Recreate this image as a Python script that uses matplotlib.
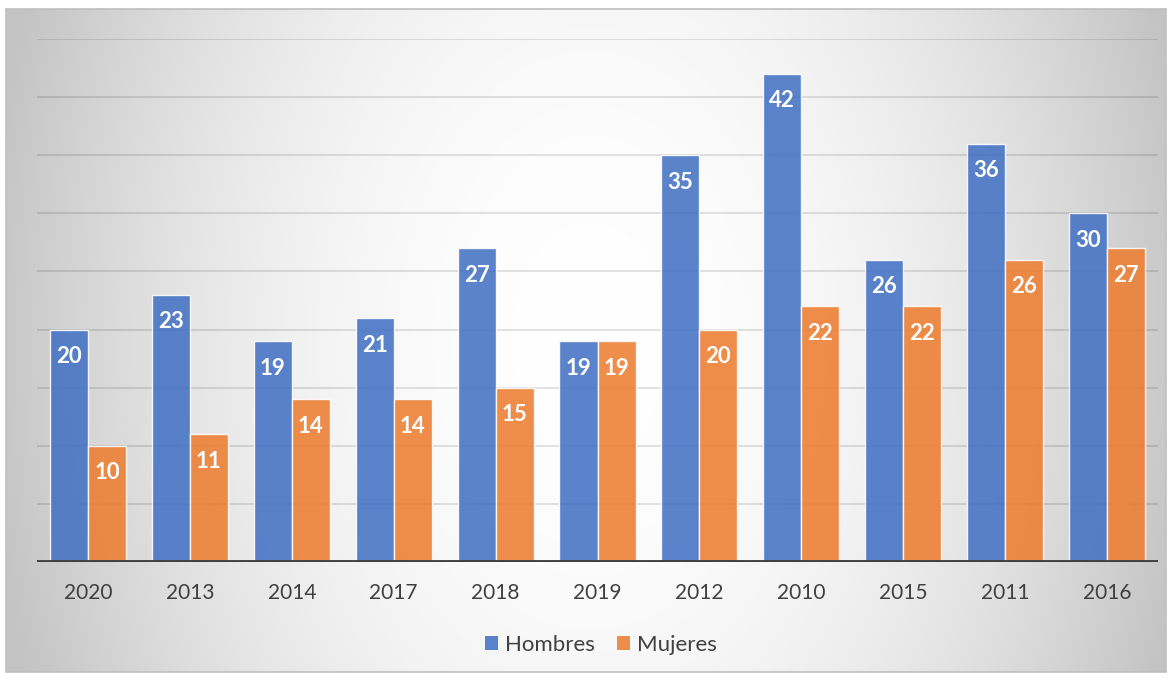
import numpy as np
import matplotlib
matplotlib.use("Agg")
import matplotlib.pyplot as plt
from matplotlib.patches import Patch, Rectangle

plt.rcParams['font.family'] = ['Lato', 'DejaVu Sans']

# data
years = ["2020", "2013", "2014", "2017", "2018", "2019", "2012", "2010", "2015", "2011", "2016"]
hombres = [20, 23, 19, 21, 27, 19, 35, 42, 26, 36, 30]
mujeres = [10, 11, 14, 14, 15, 19, 20, 22, 22, 26, 27]

blue = "#4472C4"
orange = "#ED7D31"
text_col = "#404040"

W, H = 1172, 677
fig = plt.figure(figsize=(W / 100, H / 100), dpi=100)
fig.patch.set_facecolor("white")

# soft radial gradient behind the chart
bg = fig.add_axes([6 / W, 1 - 672 / H, 1160 / W, 663 / H])
yy, xx = np.mgrid[0:663, 0:1160]
r2 = ((xx - 584) / 600.0) ** 2 + ((yy + 9 - 340) / 900.0) ** 2
val = np.clip(255 - 58 * r2, 195, 255) / 255.0
bg.imshow(np.dstack([val, val, val]), aspect="auto", interpolation="bilinear")
bg.set_axis_off()
fig.patches.append(Rectangle((6 / W, 1 - 672 / H), 1160 / W, 663 / H, transform=fig.transFigure,
                             fill=False, edgecolor="#bfbfbf", lw=1.2))

ax = fig.add_axes([37 / W, 1 - 562 / H, 1121 / W, 523 / H])
ax.set_facecolor("none")

x = np.arange(len(years))
w = 0.373
b1 = ax.bar(x - w / 2, hombres, w, color=blue, alpha=0.88, edgecolor="white", linewidth=1, zorder=3)
b2 = ax.bar(x + w / 2, mujeres, w, color=orange, alpha=0.88, edgecolor="white", linewidth=1, zorder=3)

for bars, vals in ((b1, hombres), (b2, mujeres)):
    for rect, v in zip(bars, vals):
        ax.annotate(str(v), (rect.get_x() + rect.get_width() / 2, v), xytext=(0, -19.5),
                    textcoords="offset points", ha="center", va="center",
                    color="white", fontsize=16, fontweight="bold", zorder=5)

ax.set_xlim(-0.5, len(years) - 0.5)
ax.set_ylim(0, 45)
ax.set_yticks(np.arange(5, 46, 5))
ax.yaxis.grid(True, color="black", alpha=0.12, lw=1.3, zorder=1)
ax.set_axisbelow(True)
ax.axhline(0, color=text_col, lw=2.8, zorder=6)
for s in ax.spines.values():
    s.set_visible(False)
ax.tick_params(axis="y", left=False, labelleft=False)
ax.tick_params(axis="x", length=0, pad=15, labelsize=15, labelcolor=text_col)
ax.set_xticks(x)
ax.set_xticklabels(years)

handles = [Patch(facecolor=blue, alpha=0.88, edgecolor="none", label="Hombres"),
           Patch(facecolor=orange, alpha=0.88, edgecolor="none", label="Mujeres")]
leg = fig.legend(handles=handles, loc="center", bbox_to_anchor=(601 / W, 1 - 645 / H), ncol=2,
                 frameon=False, fontsize=16, handlelength=0.6, handleheight=0.6,
                 handletextpad=0.3, columnspacing=1.0)
for t in leg.get_texts():
    t.set_color(text_col)

fig.savefig("out.png", dpi=100)
